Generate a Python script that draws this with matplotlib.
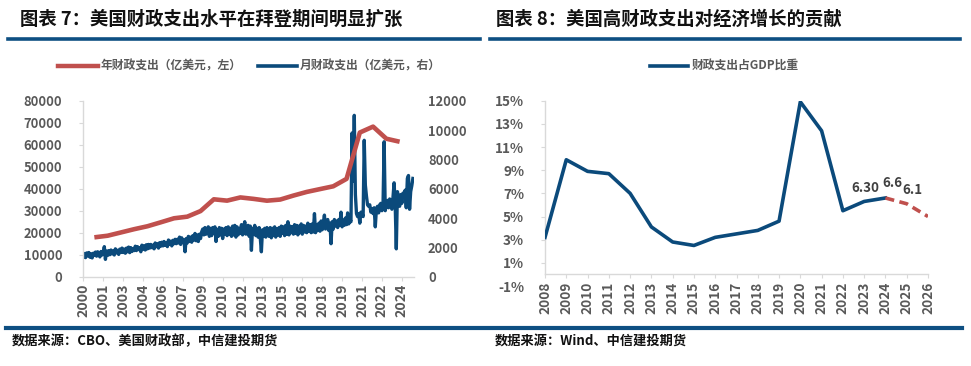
import matplotlib
matplotlib.use("Agg")
import matplotlib.pyplot as plt
from matplotlib.lines import Line2D
import numpy as np

plt.rcParams['font.family'] = ['Noto Sans CJK SC', 'DejaVu Sans']

# ---------------- data: left chart ----------------
annual_years = list(range(2000, 2024))
annual_outlays = [17890, 18630, 20110, 21600, 22930, 24720, 26550, 27290, 29830, 35180,
                  34570, 36030, 35370, 34550, 35060, 36880, 38530, 39820, 41090, 44470,
                  65530, 68220, 62720, 61350]

monthly_2000 = [1350, 1580, 1300, 1620, 1420, 1650, 1330, 1560, 1280, 1600, 1450, 1680]
monthly_2001 = [1400, 1700, 1500, 1350, 1720, 1480, 1600, 2050, 1180, 1750, 1450, 1780]
monthly_2002 = [1500, 1820, 1560, 1750, 1480, 1900, 1620, 1800, 1520, 1880, 1650, 1950]
monthly_2003 = [1650, 1880, 1600, 1950, 1700, 2020, 1640, 1980, 1720, 1900, 1780, 2080]
monthly_2004 = [1780, 2050, 1850, 1980, 1700, 2150, 1880, 2100, 1820, 2180, 1900, 2200]
monthly_2005 = [1950, 2200, 1980, 2150, 1900, 2300, 2050, 2250, 1950, 2320, 2080, 2350]
monthly_2006 = [2100, 2400, 2150, 2300, 2050, 2500, 2200, 2420, 2100, 2480, 2250, 2550]
monthly_2007 = [2250, 2550, 2300, 2700, 2200, 2650, 2350, 2500, 1700, 2600, 2300, 2750]
monthly_2008 = [2400, 2700, 2350, 2800, 2500, 2950, 2450, 2850, 2400, 2900, 2600, 3050]
monthly_2009 = [3250, 2850, 3350, 2900, 3200, 3400, 2750, 3300, 2800, 3350, 2950, 3400]
monthly_2010 = [2400, 3200, 2750, 3350, 2850, 3300, 2600, 3250, 2900, 3350, 2800, 3400]
monthly_2011 = [2900, 3300, 2750, 3450, 2850, 3500, 2700, 3400, 2850, 3300, 2950, 3550]
monthly_2012 = [2850, 3400, 3750, 2900, 3300, 3500, 2750, 3450, 1800, 3300, 2900, 3500]
monthly_2013 = [2800, 3300, 2700, 3350, 2650, 1700, 3200, 2750, 3300, 2700, 3350, 2850]
monthly_2014 = [2750, 3350, 2650, 3300, 2800, 3400, 2700, 3250, 2850, 3350, 2750, 3450]
monthly_2015 = [2950, 3400, 2800, 3500, 2900, 3750, 2850, 3450, 3000, 3400, 2900, 3550]
monthly_2016 = [2950, 3500, 2850, 3450, 3000, 3600, 2900, 3500, 3050, 3450, 3000, 3650]
monthly_2017 = [3100, 3550, 3000, 3600, 3050, 4300, 3000, 3550, 3150, 3650, 3100, 3800]
monthly_2018 = [3200, 3650, 4200, 3250, 3700, 3900, 3150, 3650, 2250, 3750, 3250, 3900]
monthly_2019 = [3450, 3800, 3350, 3900, 3500, 4400, 3400, 3850, 3500, 4000, 3550, 4350]
monthly_2020 = [3600, 3900, 3750, 9800, 6500, 11000, 5600, 4300, 4100, 4300, 3650, 4400]
monthly_2021 = [4300, 4100, 9300, 6250, 5500, 4900, 4800, 4900, 4400, 4650, 4300, 4700]
monthly_2022 = [3400, 4600, 4800, 4350, 4900, 5000, 4500, 4850, 9200, 4500, 5100, 5200]
monthly_2023 = [4700, 5300, 5000, 4600, 5400, 6400, 4900, 1900, 5800, 5300, 4800, 5600]
monthly_2024 = [5000, 5700, 5400, 5900, 4700, 6700, 6900, 4600, 5800, 6200, 6700]

monthly_outlays = (monthly_2000 + monthly_2001 + monthly_2002 + monthly_2003 + monthly_2004 +
                   monthly_2005 + monthly_2006 + monthly_2007 + monthly_2008 + monthly_2009 +
                   monthly_2010 + monthly_2011 + monthly_2012 + monthly_2013 + monthly_2014 +
                   monthly_2015 + monthly_2016 + monthly_2017 + monthly_2018 + monthly_2019 +
                   monthly_2020 + monthly_2021 + monthly_2022 + monthly_2023 + monthly_2024)

left_xtick_labels = ['2000', '2001', '2003', '2004', '2006', '2007', '2009', '2010', '2012',
                     '2013', '2015', '2016', '2018', '2019', '2021', '2022', '2024']

# ---------------- data: right chart ----------------
gdp_years = list(range(2008, 2027))
gdp_share_actual = [3.2, 9.9, 8.9, 8.7, 7.0, 4.1, 2.8, 2.5, 3.2, 3.5, 3.8, 4.6, 14.9, 12.4,
                    5.5, 6.3, 6.6]
forecast_years = [2024, 2025, 2026]
gdp_share_forecast = [6.6, 6.1, 5.0]
point_labels = {2023: '6.30', 2024: '6.6', 2025: '6.1'}

# ---------------- styling ----------------
BLUE = '#0b4a7b'
RED = '#c0504d'
GRAY = '#595959'
AXGRAY = '#d9d9d9'
RULE = '#0e4f82'

W, H = 971, 366
fig = plt.figure(figsize=(W / 100, H / 100), dpi=100)


def fx(px):
    return px / W


def fy(py):
    return 1 - py / H


# titles
fig.text(fx(20), fy(19), '图表 7：美国财政支出水平在拜登期间明显扩张', fontsize=13.2,
         fontweight='bold', color='#111111', va='center', ha='left')
fig.text(fx(496), fy(19), '图表 8：美国高财政支出对经济增长的贡献', fontsize=13.2,
         fontweight='bold', color='#111111', va='center', ha='left')

# rules
fig.add_artist(Line2D([fx(8), fx(480)], [fy(39), fy(39)], color=RULE, lw=2.6,
                      transform=fig.transFigure))
fig.add_artist(Line2D([fx(490), fx(960)], [fy(39), fy(39)], color=RULE, lw=2.6,
                      transform=fig.transFigure))
fig.add_artist(Line2D([fx(6), fx(962)], [fy(328), fy(328)], color=RULE, lw=3.0,
                      transform=fig.transFigure))

# sources
fig.text(fx(12), fy(341), '数据来源：CBO、美国财政部，中信建投期货', fontsize=9.5,
         fontweight='bold', color='#111111', va='center', ha='left', style='italic')
fig.text(fx(495), fy(341), '数据来源：Wind、中信建投期货', fontsize=9.5,
         fontweight='bold', color='#111111', va='center', ha='left', style='italic')

# ---------------- left chart ----------------
ax1 = fig.add_axes([fx(83.3), fy(276.7), fx(414) - fx(83.3), fy(100.7) - fy(276.7)])
ax2 = ax1.twinx()

months = np.arange(len(monthly_outlays))
annual_x = [12 * (y - 2000) + 10 for y in annual_years]

ax1.plot(annual_x, annual_outlays, color=RED, lw=3.3, solid_capstyle='butt', zorder=3)
ax2.plot(months, monthly_outlays, color=BLUE, lw=2.4, zorder=3)
ax1.set_zorder(ax2.get_zorder() + 1)
ax1.patch.set_visible(False)

ax1.set_xlim(0, len(monthly_outlays))
ax1.set_ylim(0, 80000)
ax2.set_ylim(0, 12000)
ax1.set_yticks(range(0, 80001, 10000))
ax2.set_yticks(range(0, 12001, 2000))
ax1.set_xticks([18 * i for i in range(len(left_xtick_labels))])
ax1.set_xticklabels(left_xtick_labels, rotation=90)

for a in (ax1, ax2):
    for s in ('top', 'right'):
        a.spines[s].set_visible(False)
ax2.spines['left'].set_visible(False)
ax2.spines['bottom'].set_visible(False)
ax1.spines['left'].set_color(AXGRAY)
ax1.spines['bottom'].set_color(AXGRAY)
ax1.spines['left'].set_linewidth(1.0)
ax1.spines['bottom'].set_linewidth(1.0)
ax1.tick_params(axis='y', length=3, color=AXGRAY, labelsize=9.3, labelcolor=GRAY, pad=12)
ax1.tick_params(axis='x', length=3, color=AXGRAY, labelsize=10.2, labelcolor=GRAY, pad=2)
ax2.tick_params(axis='y', length=0, labelsize=9.3, labelcolor=GRAY, pad=10)
for lab in ax1.get_yticklabels() + ax1.get_xticklabels() + ax2.get_yticklabels():
    lab.set_fontweight('bold')

# left legend
fig.add_artist(Line2D([fx(58), fx(98)], [fy(66), fy(66)], color=RED, lw=3.2,
                      transform=fig.transFigure))
fig.text(fx(101), fy(66), '年财政支出（亿美元，左）', fontsize=8.5, fontweight='bold',
         color=GRAY, va='center', ha='left')
fig.add_artist(Line2D([fx(258), fx(297)], [fy(66), fy(66)], color=BLUE, lw=2.6,
                      transform=fig.transFigure))
fig.text(fx(300), fy(66), '月财政支出（亿美元，右）', fontsize=8.5, fontweight='bold',
         color=GRAY, va='center', ha='left')

# ---------------- right chart ----------------
ax3 = fig.add_axes([fx(545), fy(286), fx(928) - fx(545), fy(100.7) - fy(286)])
ax3.spines['top'].set_visible(False)
ax3.spines['right'].set_visible(False)
ax3.spines['bottom'].set_position(('data', 0))
ax3.spines['left'].set_bounds(0, 15)
ax3.plot(gdp_years[:len(gdp_share_actual)], gdp_share_actual, color=BLUE, lw=2.6,
         solid_joinstyle='round', zorder=3)
ax3.plot(forecast_years, gdp_share_forecast, color=RED, lw=2.6, ls=(0, (2.5, 1.5)), zorder=3)
ax3.set_xlim(2008, 2026)
ax3.set_ylim(-1, 15)
ax3.set_yticks(range(-1, 16, 2))
ax3.set_yticklabels([f'{v}%' for v in range(-1, 16, 2)])
ax3.set_xticks(gdp_years)
ax3.set_xticklabels([str(y) for y in gdp_years], rotation=90)
for s in ('left', 'bottom'):
    ax3.spines[s].set_color(AXGRAY)
    ax3.spines[s].set_linewidth(1.0)
ax3.tick_params(axis='y', length=3, color=AXGRAY, labelsize=9.8, labelcolor=GRAY, pad=12)
ax3.tick_params(axis='x', length=3, color=AXGRAY, labelsize=9.8, labelcolor=GRAY, pad=2)
for lab in ax3.get_yticklabels() + ax3.get_xticklabels():
    lab.set_fontweight('bold')
ax3.yaxis.get_major_ticks()[0].tick1line.set_visible(False)

label_offsets = {2023: (1, 13), 2024: (7, 15), 2025: (6, 14)}
all_vals = gdp_share_actual + gdp_share_forecast[1:]
for yr, txt in point_labels.items():
    val = all_vals[gdp_years.index(yr)]
    ax3.annotate(txt, (yr, val), xytext=label_offsets[yr], textcoords='offset pixels',
                 ha='center', va='center', fontsize=9.6, fontweight='bold', color='#404040')

# right legend
fig.add_artist(Line2D([fx(650), fx(688)], [fy(66), fy(66)], color=BLUE, lw=2.6,
                      transform=fig.transFigure))
fig.text(fx(692), fy(66), '财政支出占GDP比重', fontsize=8.5, fontweight='bold',
         color=GRAY, va='center', ha='left')

fig.savefig('out.png', dpi=100)
